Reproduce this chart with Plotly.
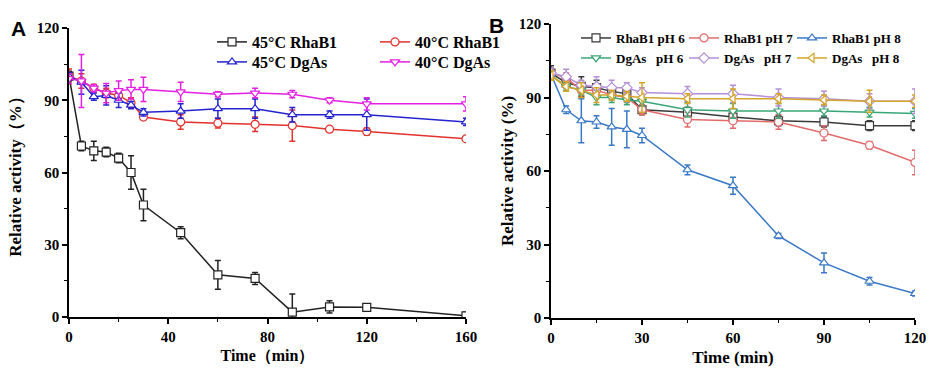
import plotly.graph_objects as go

# ---------------- Panel A data ----------------
time_a = [0, 5, 10, 15, 20, 25, 30, 45, 60, 75, 90, 105, 120, 160]
rhab1_45 = [100, 71, 69, 68.5, 66, 60, 46.5, 35, 17.5, 16, 2, 4.2, 4, 0.5]
rhab1_45_err = [2, 2, 4, 2, 2, 7, 6.5, 2.5, 6, 2.5, 7.5, 2.5, 1, 1.5]
rhab1_40 = [100, 98, 95, 93, 92, 89, 83, 81, 80.5, 80, 79.5, 78, 77, 74]
rhab1_40_err = [3, 3, 1.5, 2, 2, 2, 1, 3, 2, 3, 6.5, 1, 1.5, 1]
dgas_45 = [100, 97.5, 91.5, 92, 90, 88, 85, 85.5, 86.5, 86.5, 84, 84, 84, 81]
dgas_45_err = [1.5, 5, 1.5, 4, 3, 1.5, 1.5, 3, 4, 4, 3, 1.5, 6.5, 1.5]
dgas_40 = [99, 98, 95, 93, 94, 94.5, 94.5, 93.5, 92.5, 93, 92.5, 90, 88.5, 88.5]
dgas_40_err = [2, 11, 1.5, 4, 4, 4, 5, 4, 1, 2, 1.5, 1, 2.5, 3]

# ---------------- Panel B data ----------------
time_b = [0, 5, 10, 15, 20, 25, 30, 45, 60, 75, 90, 105, 120]
rhab1_ph6 = [100, 96, 94.5, 94, 92.5, 91.5, 85, 84, 82, 80.5, 80, 78.5, 78.5]
rhab1_ph6_err = [3, 2, 4, 3, 2, 3, 2, 2, 2, 2, 2, 2, 2]
rhab1_ph7 = [100, 98, 93, 93, 91, 90, 85, 81, 80.5, 80, 75.5, 70.5, 63.5]
rhab1_ph7_err = [2, 2, 3, 2, 2, 2, 2, 3, 3, 3, 3, 1.5, 5]
rhab1_ph8 = [99.5, 85, 80.5, 80, 78, 77, 74.5, 60.5, 54, 33.5, 22.5, 15, 10]
rhab1_ph8_err = [2, 1.5, 9, 2.5, 7.5, 7.5, 3, 2, 3.5, 1, 4, 1.5, 1]
dgas_ph6 = [99, 94.5, 93, 90, 90, 89, 88.5, 85, 84.5, 84.5, 84.5, 84, 83.5]
dgas_ph6_err = [2, 1.5, 2, 3, 2, 2, 2, 3, 3, 3, 2, 2, 2]
dgas_ph7 = [100, 98.5, 95, 94.5, 94, 94, 92, 91.5, 91.5, 90, 89.5, 88.5, 88.5]
dgas_ph7_err = [2, 3, 2, 4, 3, 2, 2, 3, 3.5, 3.5, 3, 3, 5]
dgas_ph8 = [99, 94.5, 93, 91, 91, 90.5, 90, 89.5, 89.5, 89.5, 89, 88.5, 88.5]
dgas_ph8_err = [2, 2, 3, 3, 2, 2, 6, 2, 4, 2, 2, 4.5, 2.5]

FONT = "Liberation Serif"

W, H = 929, 369


def px(xs):
    return xs / W


def py(ys):
    return 1 - ys / H


def series(x, y, err, name, color, symbol, xa, ya, legend):
    return go.Scatter(
        x=x, y=y, name=name, mode="lines+markers",
        xaxis=xa, yaxis=ya, legend=legend,
        line=dict(color=color, width=1.5),
        marker=dict(symbol=symbol, size=8, color="white",
                    line=dict(color=color, width=1.2)),
        error_y=dict(type="data", array=err, visible=True,
                     color=color, thickness=1.5, width=3),
    )


fig = go.Figure()

# Panel A traces
fig.add_trace(series(time_a, rhab1_45, rhab1_45_err, "45\u00b0C RhaB1", "#222222", "square", "x", "y", "legend"))
fig.add_trace(series(time_a, rhab1_40, rhab1_40_err, "40\u00b0C RhaB1", "#e3312e", "circle", "x", "y", "legend"))
fig.add_trace(series(time_a, dgas_45, dgas_45_err, "45\u00b0C DgAs", "#2323d0", "triangle-up", "x", "y", "legend2"))
fig.add_trace(series(time_a, dgas_40, dgas_40_err, "40\u00b0C DgAs", "#e41fe4", "triangle-down", "x", "y", "legend2"))

# Panel B traces (one legend box per entry, laid out as a 3x2 grid)
fig.add_trace(series(time_b, rhab1_ph6, rhab1_ph6_err, "RhaB1 pH 6", "#3a3a3a", "square", "x2", "y2", "legend3"))
fig.add_trace(series(time_b, rhab1_ph7, rhab1_ph7_err, "RhaB1 pH 7", "#e26a6a", "circle", "x2", "y2", "legend4"))
fig.add_trace(series(time_b, rhab1_ph8, rhab1_ph8_err, "RhaB1 pH 8", "#3a78c6", "triangle-up", "x2", "y2", "legend5"))
fig.add_trace(series(time_b, dgas_ph6, dgas_ph6_err, "DgAs\u2002 pH 6", "#3aa676", "triangle-down", "x2", "y2", "legend6"))
fig.add_trace(series(time_b, dgas_ph7, dgas_ph7_err, "DgAs\u2002 pH 7", "#b48fd8", "diamond", "x2", "y2", "legend7"))
fig.add_trace(series(time_b, dgas_ph8, dgas_ph8_err, "DgAs\u2002 pH 8", "#d4a52a", "triangle-left", "x2", "y2", "legend8"))

tickfont = dict(family=FONT, size=15, color="black", weight="bold")


def xax(domain, rng, dtick, anchor, title, tsize):
    return dict(domain=domain, range=rng, anchor=anchor, dtick=dtick, tick0=0,
                showline=True, linecolor="black", linewidth=1.5,
                ticks="outside", ticklen=5, tickwidth=1.5, tickcolor="black",
                minor=dict(ticks="outside", ticklen=3, tickwidth=1.2,
                           tickcolor="black", dtick=dtick / 2),
                showgrid=False, zeroline=False, ticklabeloverflow="allow",
                tickfont=tickfont,
                title=dict(text=title, standoff=6,
                           font=dict(family=FONT, size=tsize, color="black", weight="bold")))


def yax(domain, anchor, title, standoff):
    return dict(domain=domain, range=[0, 120], anchor=anchor, dtick=30, tick0=0,
                showline=True, linecolor="black", linewidth=1.5,
                ticks="outside", ticklen=5, tickwidth=1.5, tickcolor="black",
                minor=dict(ticks="outside", ticklen=3, tickwidth=1.2,
                           tickcolor="black", dtick=15),
                showgrid=False, zeroline=False, ticklabeloverflow="allow",
                tickfont=tickfont,
                title=dict(text=title, standoff=standoff,
                           font=dict(family=FONT, size=17, color="black", weight="bold")))


def leg(x, y, ew, size):
    d = dict(x=x, y=y, xanchor="left", yanchor="middle", orientation="h",
             bgcolor="rgba(0,0,0,0)", itemwidth=30, tracegroupgap=0,
             font=dict(family=FONT, size=size, color="black", weight="bold"))
    if ew:
        d.update(entrywidth=ew, entrywidthmode="pixels")
    return d


fig.update_layout(
    width=W, height=H,
    margin=dict(l=0, r=0, t=0, b=0, autoexpand=False),
    paper_bgcolor="white", plot_bgcolor="white",
    font=dict(family=FONT, color="black"),
    xaxis=xax([px(69), px(466)], [0, 160], 40, "y", "Time\uff08min\uff09", 16),
    yaxis=yax([py(317), py(28)], "x", "Relative activity\uff08%\uff09", 11),
    xaxis2=xax([px(551), px(915)], [0, 120], 30, "y2", "Time (min)", 17),
    yaxis2=yax([py(318), py(24)], "x2", "Relative activity (%)", 1),
    legend=leg(px(212), py(42), 118, 16),
    legend2=leg(px(212), py(62), 118, 16),
    legend3=leg(px(576), py(38), 0, 13),
    legend4=leg(px(684), py(38), 0, 13),
    legend5=leg(px(792), py(38), 0, 13),
    legend6=leg(px(576), py(58), 0, 13),
    legend7=leg(px(684), py(58), 0, 13),
    legend8=leg(px(792), py(58), 0, 13),
    annotations=[
        dict(text="<b>A</b>", x=px(9), y=py(29), xref="paper", yref="paper",
             xanchor="left", yanchor="middle", showarrow=False,
             font=dict(family="Liberation Sans", size=21, color="black")),
        dict(text="<b>B</b>", x=px(487), y=py(25), xref="paper", yref="paper",
             xanchor="left", yanchor="middle", showarrow=False,
             font=dict(family="Liberation Sans", size=21, color="black")),
    ],
)

fig.write_html(
    "out.html",
    config={"displayModeBar": False},
    post_script="document.body.style.margin='0';"
                "document.documentElement.style.overflow='hidden';"
                "document.body.style.overflow='hidden';",
)
